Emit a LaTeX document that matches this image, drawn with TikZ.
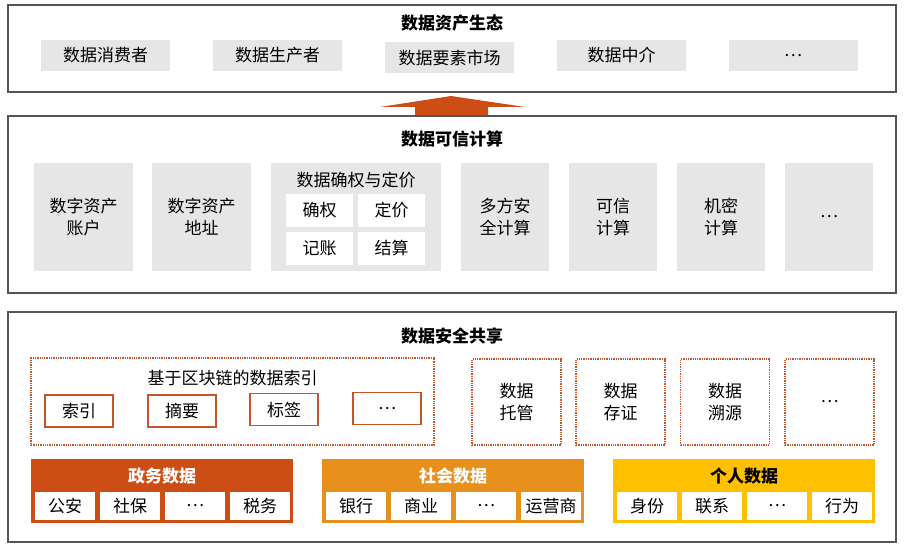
\documentclass[tikz,border=0pt]{standalone}
\usepackage{fontspec}
\setmainfont{Noto Sans CJK SC}
\usetikzlibrary{positioning}
\definecolor{frame}{HTML}{555555}
\definecolor{cellgray}{HTML}{E6E6E6}
\definecolor{govred}{HTML}{CC4E14}
\definecolor{socorange}{HTML}{E8901C}
\definecolor{peryellow}{HTML}{FFC000}
\definecolor{dotline}{HTML}{C0582A}
\tikzset{
  layer/.style={draw=frame,line width=1.4pt},
  title/.style={font=\bfseries\fontsize{17}{20}\selectfont},
  gbox/.style={fill=cellgray,font=\fontsize{17}{22}\selectfont,align=center,inner sep=0pt},
  wbox/.style={fill=white,font=\fontsize{17}{22}\selectfont,inner sep=0pt,minimum width=67pt,minimum height=33pt},
  dotbox/.style={draw=dotline,densely dotted,line width=1.3pt,font=\fontsize{17}{22}\selectfont,align=center,inner sep=0pt},
  tagbox/.style={draw=dotline,line width=1.2pt,fill=white,font=\fontsize{17}{22}\selectfont,inner sep=0pt,minimum width=68pt,minimum height=32pt},
  cell/.style={fill=white,font=\fontsize{17}{22}\selectfont,inner sep=0pt,minimum width=60pt,minimum height=28pt}
}
\begin{document}
\begin{tikzpicture}[x=1pt,y=-1pt]
    \useasboundingbox (0,0) rectangle (904,548);
    % top layer: ecosystem
    \draw[layer] (8,5) rectangle (896,92);
    \node[title] (ecotitle) at (452,23) {数据资产生态};
    \foreach \x/\y/\t/\n in {105.5/55.5/数据消费者/cons,277.5/55.5/数据生产者/prod,449.5/57.5/数据要素市场/mkt,621.5/55.5/数据中介/agent,793/55.5/…/ecomore}
      \node[gbox,minimum width=129pt,minimum height=31pt] (\n) at (\x,\y) {\t};
    % the big arrow
    \fill[govred] (380,107) -- (451,96) -- (525,107) -- (488,107) -- (488,116) -- (415,116) -- (415,107) -- cycle;
    % middle layer: trusted computing
    \draw[layer] (8,116) rectangle (896,293);
    \node[title] (comptitle) at (452,139) {数据可信计算};
    \foreach \x/\w/\t/\n in {83.5/99/数字资产\\账户/acct,201.5/99/数字资产\\地址/addr,356/170/{}/right,505/88/多方安\\全计算/mpc,613/88/可信\\计算/tee,721/88/机密\\计算/conf,829/88/…/compmore}
      \node[gbox,minimum width=\w pt,minimum height=108pt] (\n) at (\x,217) {\t};
    \node[font=\fontsize{17}{20}\selectfont] (righttitle) at (356,180) {数据确权与定价};
    \foreach \x/\y/\t/\n in {319.5/210.5/确权/confirm,391.5/210.5/定价/price,319.5/248/记账/ledger,391.5/248/结算/settle}
      \node[wbox] (\n) at (\x,\y) {\t};
    % bottom layer: secure sharing
    \draw[layer] (8,312) rectangle (896,542);
    \node[title] (sharetitle) at (452,336) {数据安全共享};
    \node[dotbox,minimum width=403pt,minimum height=87pt] (index) at (232.5,401.5) {};
    \node[font=\fontsize{17}{20}\selectfont] (indextitle) at (232.5,378) {基于区块链的数据索引};
    \foreach \x/\y/\t/\n in {79/411/索引/idx,182/411/摘要/digest,284/409.5/标签/label,387/408.5/…/idxmore}
      \node[tagbox] (\n) at (\x,\y) {\t};
    \foreach \x/\t/\n in {516.5/数据\\托管/custody,620.5/数据\\存证/evidence,725/数据\\溯源/trace,829.5/…/sharemore}
      \node[dotbox,minimum width=89pt,minimum height=86pt] (\n) at (\x,402) {\t};
    % data sources
    \foreach \o/\c/\t/\tc/\a/\b/\cc/\d/\n in {0/govred/政务数据/white/公安/社保/…/税务/gov,291/socorange/社会数据/white/银行/商业/…/运营商/soc,582/peryellow/个人数据/black/身份/联系/…/行为/per}
    {
      \node[fill=\c,minimum width=262pt,minimum height=64pt,inner sep=0pt] (\n) at (162+\o,491) {};
      \node[title,text=\tc] (\n title) at (162+\o,476) {\t};
      \node[cell] (\n 1) at (65+\o,506) {\a};
      \node[cell] (\n 2) at (130+\o,506) {\b};
      \node[cell] (\n 3) at (195+\o,506) {\cc};
      \node[cell] (\n 4) at (260+\o,506) {\d};
    }
\end{tikzpicture}
\end{document}
